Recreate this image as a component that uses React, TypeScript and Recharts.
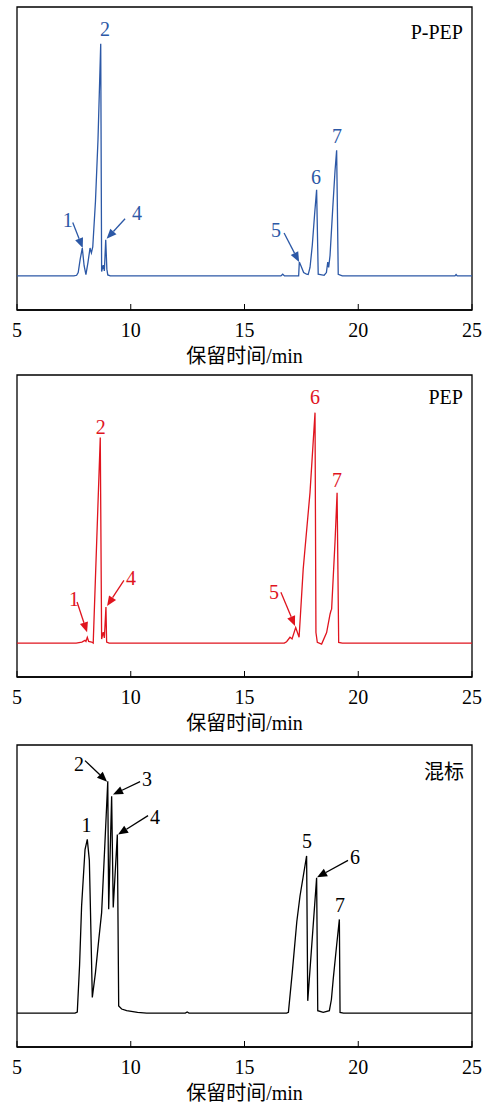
import { LineChart, Line, XAxis, YAxis, ReferenceArea, ReferenceLine, ReferenceDot } from 'recharts';

const FONT = "'Liberation Serif', 'Times New Roman', 'Noto Sans CJK SC', serif";
const WIDTH = 488;
const X_TICKS = [5, 10, 15, 20, 25];
const X_TITLE = '保留时间/min';
const Y_DOMAIN: [number, number] = [-10, 79];

type Pt = [number, number];

// retention time (min), detector signal (arbitrary units, baseline = 0)
const P_PEP_TRACE: Pt[] = [
    [5, 0], [7.5, 0], [7.62, 0.2], [7.69, 1], [7.78, 5], [7.87, 8.2], [7.95, 3], [8.03, 0.4],
    [8.12, 4], [8.21, 8.2], [8.27, 6.8], [8.33, 8.5], [8.45, 22], [8.56, 40], [8.68, 68.2],
    [8.72, 1.3], [8.79, 3.2], [8.84, 1.5], [8.9, 10.6], [8.95, 2], [8.99, 0.3], [9.1, 0],
    [16.6, 0], [16.68, 0.5], [16.76, 0], [17.38, 0], [17.41, 4.1], [17.48, 3], [17.6, 1],
    [17.73, 0.5], [17.8, 0.4], [17.88, 2.5], [17.98, 9], [18.08, 18], [18.17, 25.3], [18.24, 0.5],
    [18.5, 0.2], [18.6, 1], [18.66, 4.1], [18.7, 2.5], [18.76, 6], [18.88, 20], [18.98, 31],
    [19.05, 36.9], [19.12, 0.5], [19.3, 0], [24.25, 0], [24.3, 0.4], [24.35, 0], [25, 0],
];

const PEP_TRACE: Pt[] = [
    [5, 0], [7.6, 0], [7.85, 0.3], [7.99, 0.8], [8.03, 0.5], [8.09, 1.7], [8.15, 0.5], [8.28, 0.3],
    [8.35, 0], [8.66, 60.6], [8.72, 1.2], [8.79, 3.2], [8.84, 1.5], [8.91, 10.6], [8.94, 0.3],
    [9.05, 0], [16.75, 0], [16.85, 0.4], [17.0, 1.7], [17.09, 1.2], [17.25, 4.6], [17.4, 1.7],
    [17.58, 21.8], [17.88, 44.4], [18.1, 67.9], [18.14, 3.1], [18.2, 0.2], [18.39, -0.3],
    [18.61, 3.1], [18.76, 8.5], [18.8, 9.5], [18.83, 10], [18.98, 30], [19.07, 44.3],
    [19.14, 0.2], [19.3, 0], [25, 0],
];

const MIX_TRACE: Pt[] = [
    [5, 0], [7.55, 0], [7.65, 0.3], [7.75, 14], [7.84, 31.6], [7.99, 48.2], [8.09, 51.2],
    [8.18, 45], [8.23, 30], [8.31, 4.6], [8.45, 12], [8.6, 22], [8.72, 29.6], [8.85, 48],
    [8.99, 68.3], [9.03, 30.6], [9.16, 63.9], [9.23, 31.1], [9.41, 52.6], [9.47, 2.1], [9.6, 1.2],
    [9.82, 0.7], [10.3, 0.2], [10.7, 0], [12.4, 0], [12.48, 0.3], [12.56, 0], [16.85, 0],
    [16.93, 0.2], [17.1, 12], [17.3, 27], [17.44, 34.5], [17.73, 46.3], [17.78, 3.6],
    [18.17, 39.9], [18.22, 0.7], [18.46, 0.2], [18.73, 0.7], [18.82, 4], [18.9, 10], [19.05, 20],
    [19.17, 27.6], [19.2, 0.2], [19.35, 0], [25, 0],
];

interface Note {
    text: string;
    at: Pt;
    from?: Pt;
    to?: Pt;
}

const P_PEP_NOTES: Note[] = [
    { text: '1', at: [7.23, 16.5], from: [7.45, 15.7], to: [7.89, 8.2] },
    { text: '2', at: [8.87, 72.4] },
    { text: '4', at: [10.27, 18.5], from: [9.75, 16.8], to: [8.94, 10.9] },
    { text: '5', at: [16.38, 13.5], from: [16.74, 12.6], to: [17.4, 4.1] },
    { text: '6', at: [18.14, 29.1] },
    { text: '7', at: [19.07, 41.2] },
];

const PEP_NOTES: Note[] = [
    { text: '1', at: [7.5, 12.9], from: [7.64, 12.1], to: [8.08, 3.2] },
    { text: '2', at: [8.68, 63.8] },
    { text: '4', at: [10.01, 19.1], from: [9.7, 18.5], to: [8.96, 10.9] },
    { text: '5', at: [16.3, 15], from: [16.6, 15], to: [17.22, 5] },
    { text: '6', at: [18.1, 72.4] },
    { text: '7', at: [19.07, 48.2] },
];

const MIX_NOTES: Note[] = [
    { text: '1', at: [8.06, 55.3] },
    { text: '2', at: [7.73, 73.5], from: [7.99, 74.4], to: [8.96, 68.2] },
    { text: '3', at: [10.71, 69.1], from: [10.41, 68.2], to: [9.22, 64.4] },
    { text: '4', at: [11.07, 57.9], from: [10.76, 58.2], to: [9.44, 52.6] },
    { text: '5', at: [17.75, 50.6] },
    { text: '6', at: [19.86, 45.9], from: [19.55, 45], to: [18.19, 40] },
    { text: '7', at: [19.2, 31.8] },
];

const InTick = (props: any) => {
    const { x, y, payload } = props;
    return (
        <g>
            <line x1={x} y1={y - 6} x2={x} y2={y} stroke="#000" strokeWidth={1} />
            <text x={x} y={y + 27} textAnchor="middle" fontSize={20} fontFamily={FONT} fill="#000">
                {payload.value}
            </text>
        </g>
    );
};

const arrowShape = (color: string) => (props: any) => {
    const { x1, y1, x2, y2 } = props;
    const ang = Math.atan2(y2 - y1, x2 - x1);
    const len = 10;
    const half = 4.2;
    const bx = x2 - len * Math.cos(ang);
    const by = y2 - len * Math.sin(ang);
    const px = -Math.sin(ang) * half;
    const py = Math.cos(ang) * half;
    return (
        <g>
            <line x1={x1} y1={y1} x2={bx} y2={by} stroke={color} strokeWidth={1.3} />
            <polygon points={`${x2},${y2} ${bx + px},${by + py} ${bx - px},${by - py}`} fill={color} />
        </g>
    );
};

const textShape = (text: string, color: string, anchor: string = 'middle') => (props: any) => (
    <text
        x={props.cx}
        y={props.cy}
        dy={7}
        textAnchor={anchor}
        fontSize={20}
        fontFamily={FONT}
        fill={color}
    >
        {text}
    </text>
);

interface PanelProps {
    trace: Pt[];
    notes: Note[];
    color: string;
    title: string;
    titleAt: Pt;
    height: number;
    top: number;
    bottom: number;
}

function Panel({ trace, notes, color, title, titleAt, height, top, bottom }: PanelProps) {
    const data = trace.map(([t, v]) => ({ t, v }));
    const plotBottom = height - bottom;
    return (
        <div style={{ position: 'relative', width: WIDTH, height }}>
            <LineChart width={WIDTH} height={height} data={data} margin={{ top, right: 16, bottom: 0, left: 17 }}>
                <XAxis
                    dataKey="t"
                    type="number"
                    domain={[5, 25]}
                    ticks={X_TICKS}
                    interval={0}
                    allowDataOverflow
                    height={bottom}
                    tickSize={0}
                    tickMargin={0}
                    tickLine={false}
                    axisLine={{ stroke: '#000', strokeWidth: 1.3 }}
                    tick={<InTick />}
                />
                <YAxis type="number" domain={Y_DOMAIN} hide allowDataOverflow />
                <ReferenceArea x1={5} x2={25} y1={Y_DOMAIN[0]} y2={Y_DOMAIN[1]} fill="none" stroke="#000" strokeWidth={1.3} />
                <Line
                    dataKey="v"
                    type="linear"
                    stroke={color}
                    strokeWidth={1.3}
                    dot={false}
                    isAnimationActive={false}
                />
                {notes.map((n, i) =>
                    n.from && n.to ? (
                        <ReferenceLine
                            key={`a-${i}`}
                            segment={[{ x: n.from[0], y: n.from[1] }, { x: n.to[0], y: n.to[1] }]}
                            shape={arrowShape(color)}
                        />
                    ) : null
                )}
                {notes.map((n, i) => (
                    <ReferenceDot key={`n-${i}`} x={n.at[0]} y={n.at[1]} r={0} shape={textShape(n.text, color)} />
                ))}
                <ReferenceDot x={titleAt[0]} y={titleAt[1]} r={0} shape={textShape(title, '#000', 'end')} />
            </LineChart>
            <div
                style={{
                    position: 'absolute',
                    left: 17,
                    width: 455,
                    top: plotBottom + 36,
                    textAlign: 'center',
                    fontFamily: FONT,
                    fontSize: 20,
                    lineHeight: '20px',
                    color: '#000',
                }}
            >
                {X_TITLE}
            </div>
        </div>
    );
}

export default function App() {
    return (
        <div style={{ width: WIDTH, background: '#fff' }}>
            <style>{'body{margin:0;background:#fff}'}</style>
            <Panel trace={P_PEP_TRACE} notes={P_PEP_NOTES} color="#2C58A6" title="P-PEP" titleAt={[24.6, 71.8]} height={370} top={7} bottom={60} />
            <Panel trace={PEP_TRACE} notes={PEP_NOTES} color="#E0141E" title="PEP" titleAt={[24.6, 72.6]} height={370} top={5} bottom={63} />
            <Panel trace={MIX_TRACE} notes={MIX_NOTES} color="#000000" title="混标" titleAt={[24.65, 70.9]} height={366} top={5} bottom={59} />
        </div>
    );
}
